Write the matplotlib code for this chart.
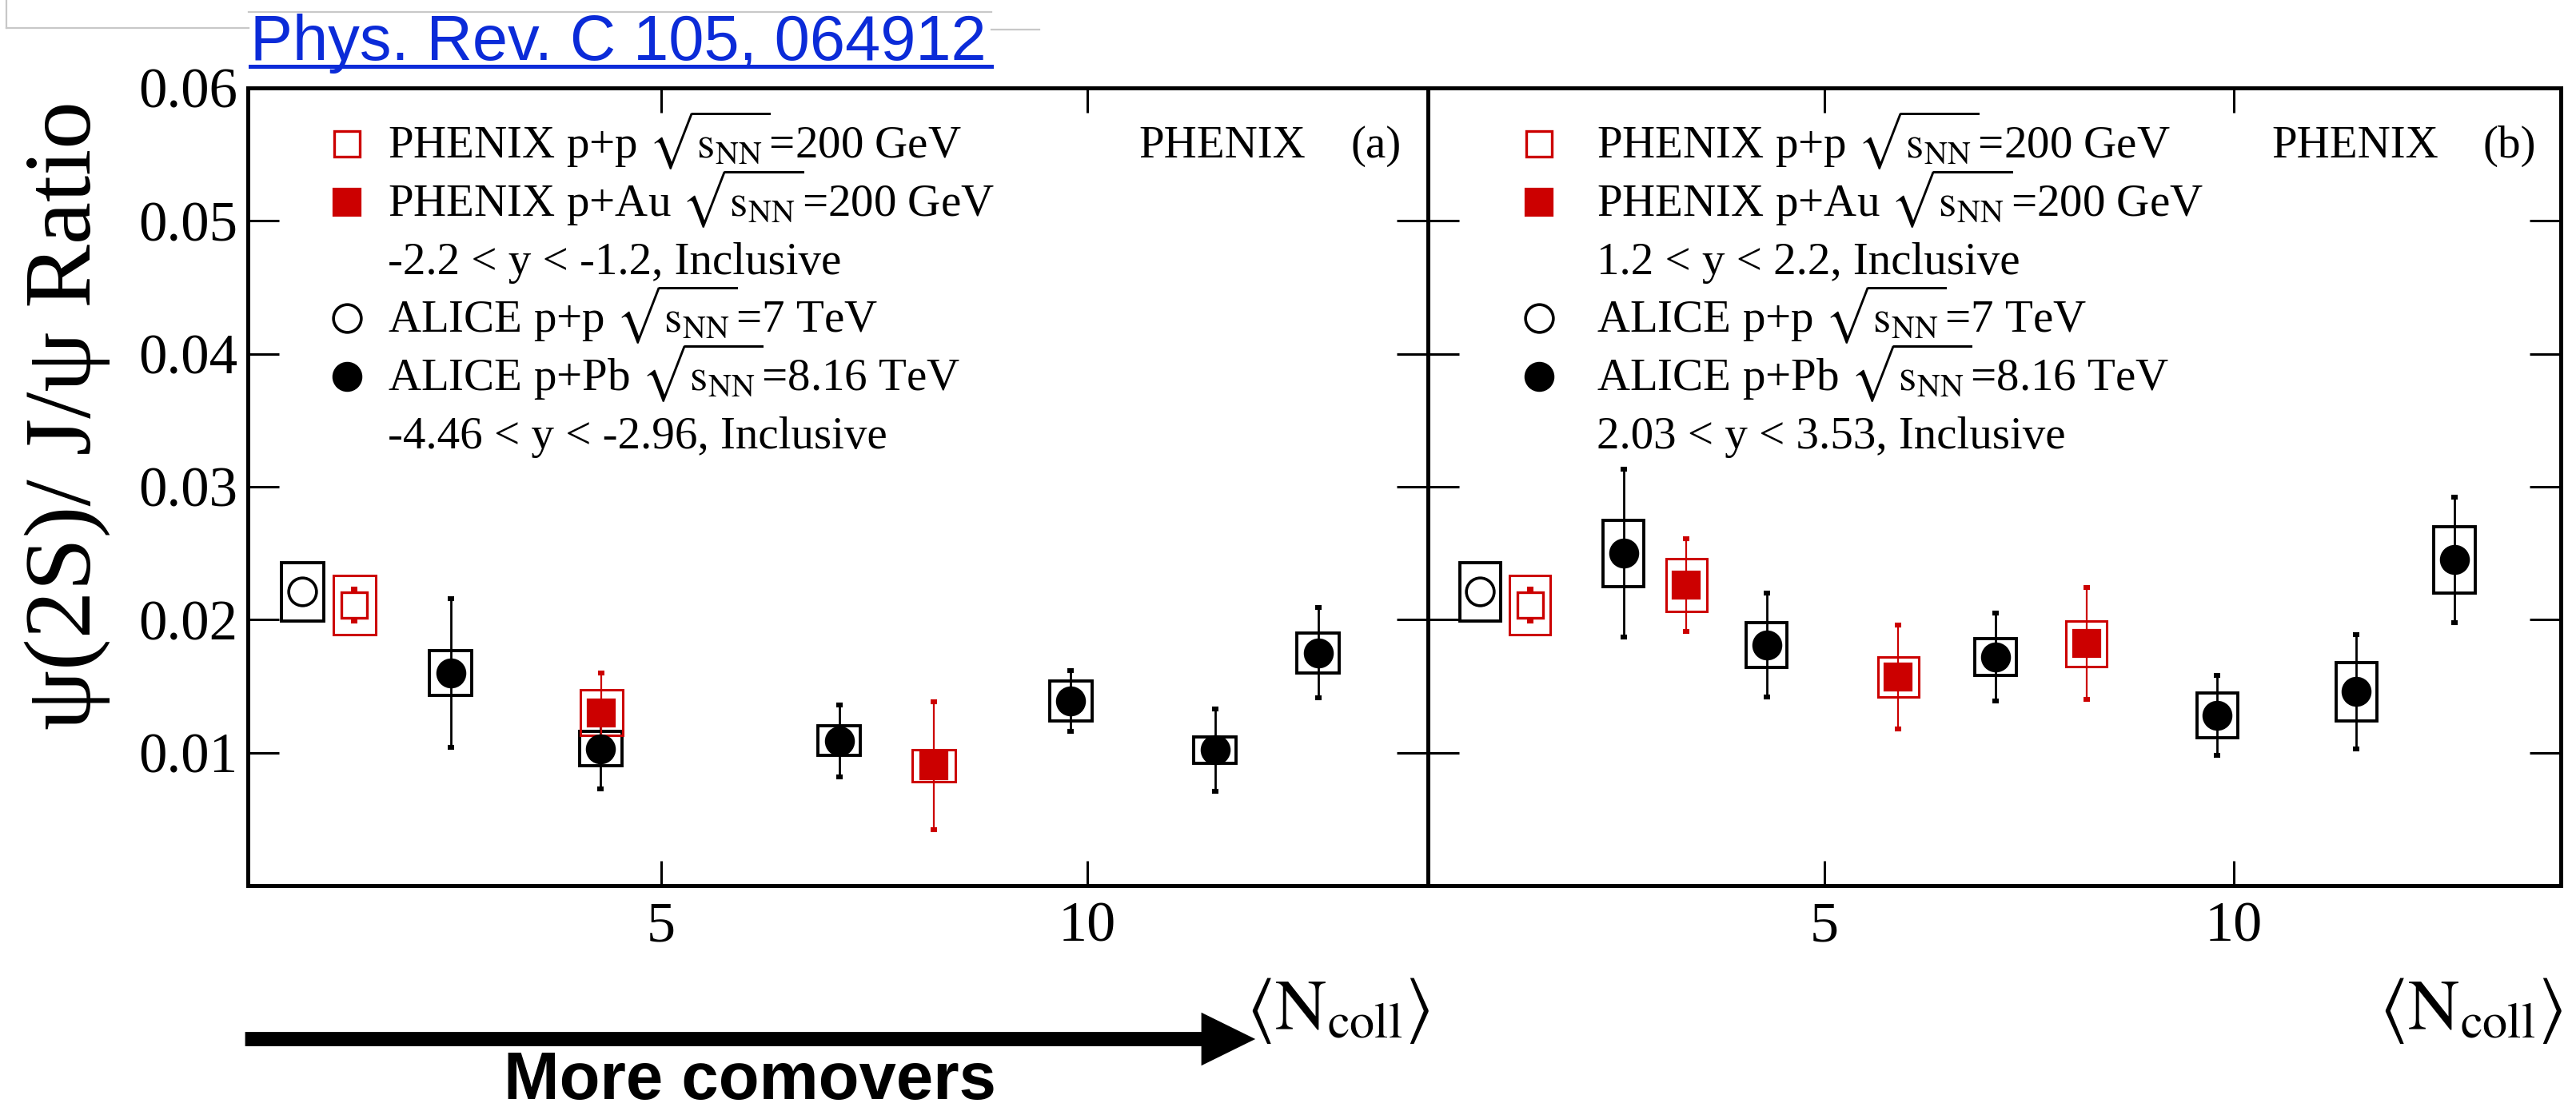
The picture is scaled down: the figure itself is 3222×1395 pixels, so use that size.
"""
psi(2S)/J/psi ratio vs <Ncoll>, PHENIX p+Au vs ALICE p+Pb, two rapidity panels.
Output: out.png
"""

import matplotlib.pyplot as plt
from matplotlib.patches import Rectangle, FancyArrow
from matplotlib.lines import Line2D

W, H, DPI = 3222, 1395, 200
plt.rcParams["font.family"] = ["Liberation Serif", "DejaVu Serif"]
plt.rcParams["mathtext.fontset"] = "stix"

RED = "#cc0000"
BLUE = "#0b2bd8"

# ---- data -------------------------------------------------------------------
# p+p references (same in both panels)
alice_pp_x = [0.79]
alice_pp_y = [0.0221]
alice_pp_stat = [0.0003]
alice_pp_sys = [0.0022]

phenix_pp_x = [1.40]
phenix_pp_y = [0.0211]
phenix_pp_stat = [0.0012]
phenix_pp_sys = [0.0022]

# panel (a): backward rapidity
a_alice_x = [2.53, 4.29, 7.09, 9.81, 11.5, 12.71]
a_alice_y = [0.0160, 0.0103, 0.0109, 0.0139, 0.0102, 0.0175]
a_alice_stat = [0.0056, 0.0030, 0.0027, 0.0023, 0.0031, 0.0034]
a_alice_sys = [0.0017, 0.0013, 0.0011, 0.0015, 0.0010, 0.0015]

a_phenix_x = [4.30, 8.20]
a_phenix_y = [0.0130, 0.0090]
a_phenix_stat = [0.0030, 0.0048]
a_phenix_sys = [0.0017, 0.0012]

# panel (b): forward rapidity
b_alice_x = [2.54, 4.29, 7.09, 9.80, 11.5, 12.70]
b_alice_y = [0.0250, 0.0181, 0.0172, 0.0128, 0.0146, 0.0245]
b_alice_stat = [0.0063, 0.0039, 0.0033, 0.0030, 0.0043, 0.0047]
b_alice_sys = [0.0025, 0.0017, 0.0014, 0.0017, 0.0022, 0.0025]

b_phenix_x = [3.31, 5.90, 8.20]
b_phenix_y = [0.0226, 0.0157, 0.0182]
b_phenix_stat = [0.0035, 0.0039, 0.0042]
b_phenix_sys = [0.0020, 0.0015, 0.0017]

xticks = [5, 10]
xtick_labels = ["5", "10"]
yticks = [0.01, 0.02, 0.03, 0.04, 0.05, 0.06]
ytick_labels = ["0.01", "0.02", "0.03", "0.04", "0.05", "0.06"]

SQ = r"$\sqrt{\mathrm{s}_{\mathrm{NN}}}$"
legend_a = [
    ("open_sq", "PHENIX p+p " + SQ + "=200 GeV"),
    ("fill_sq", "PHENIX p+Au " + SQ + "=200 GeV"),
    (None, "-2.2 < y < -1.2, Inclusive"),
    ("open_circ", "ALICE p+p " + SQ + "=7 TeV"),
    ("fill_circ", "ALICE p+Pb " + SQ + "=8.16 TeV"),
    (None, "-4.46 < y < -2.96, Inclusive"),
]
legend_b = [
    ("open_sq", "PHENIX p+p " + SQ + "=200 GeV"),
    ("fill_sq", "PHENIX p+Au " + SQ + "=200 GeV"),
    (None, "1.2 < y < 2.2, Inclusive"),
    ("open_circ", "ALICE p+p " + SQ + "=7 TeV"),
    ("fill_circ", "ALICE p+Pb " + SQ + "=8.16 TeV"),
    (None, "2.03 < y < 3.53, Inclusive"),
]

# ---- styles -----------------------------------------------------------------
BOX_HW = 0.25          # half width of systematic boxes, in <Ncoll> units
MS_CIRC = 12.5
MS_SQ = 12.5
STYLE = {
    "open_circ": dict(marker="o", mfc="white", mec="black", mew=1.3, ms=MS_CIRC),
    "fill_circ": dict(marker="o", mfc="black", mec="black", mew=1.0, ms=MS_CIRC),
    "open_sq": dict(marker="s", mfc="white", mec=RED, mew=1.2, ms=MS_SQ - 1),
    "fill_sq": dict(marker="s", mfc=RED, mec=RED, mew=0.8, ms=MS_SQ),
}


def fx(x):
    return x / W


def fy(y):
    return 1 - y / H


fig = plt.figure(figsize=(W / DPI, H / DPI), dpi=DPI)
fig.patch.set_facecolor("white")

axa = fig.add_axes([fx(310), fy(1108), (1786 - 310) / W, (1108 - 110) / H])
axb = fig.add_axes([fx(1786), fy(1108), (3203 - 1786) / W, (1108 - 110) / H])


def series(ax, xs, ys, stat, sys, key, color, box_lw, bar_lw):
    for x, y, s in zip(xs, ys, sys):
        ax.add_patch(Rectangle((x - BOX_HW, y - s), 2 * BOX_HW, 2 * s, fill=False,
                               edgecolor=color, linewidth=box_lw, zorder=2))
    ax.errorbar(xs, ys, yerr=stat, fmt="none", ecolor=color, elinewidth=bar_lw,
                capsize=1.3, capthick=2.2, zorder=3)
    ax.plot(xs, ys, linestyle="none", zorder=4, **STYLE[key])


def panel(ax, alice_x, alice_y, alice_stat, alice_sys, phx_x, phx_y, phx_stat, phx_sys, legend):
    ax.set_xlim(0.15, 14.0)
    ax.set_ylim(0, 0.06)

    series(ax, alice_pp_x, alice_pp_y, alice_pp_stat, alice_pp_sys, "open_circ", "black", 1.4, 1.0)
    series(ax, phenix_pp_x, phenix_pp_y, phenix_pp_stat, phenix_pp_sys, "open_sq", RED, 1.1, 0.8)
    series(ax, alice_x, alice_y, alice_stat, alice_sys, "fill_circ", "black", 1.4, 1.0)
    series(ax, phx_x, phx_y, phx_stat, phx_sys, "fill_sq", RED, 1.1, 0.8)

    ax.set_xticks(xticks)
    ax.set_xticklabels(xtick_labels)
    ax.set_yticks(yticks)
    ax.set_yticklabels(ytick_labels)
    ax.tick_params(axis="both", direction="in", top=True, right=True, width=1.1,
                   labelsize=25.5, colors="black")
    ax.tick_params(axis="x", length=11, pad=7, labelsize=26)
    ax.tick_params(axis="y", length=14, pad=4.5)
    for sp in ax.spines.values():
        sp.set_linewidth(1.8)

    # hand-placed legend (rows in pixels of the output image)
    bbox = ax.get_position()
    left_px = bbox.x0 * W
    marker_dx, text_dx = (124, 175) if ax is axa else (139, 211)
    baselines = [197, 270, 343, 415, 488, 561]
    for (key, label), base in zip(legend, baselines):
        if key is not None:
            fig.add_artist(Line2D([fx(left_px + marker_dx)], [fy(base - 17)],
                                  linestyle="none", transform=fig.transFigure, **STYLE[key]))
        fig.text(fx(left_px + text_dx), fy(base), label, fontsize=20.5, va="baseline", ha="left")

    right_px = (bbox.x0 + bbox.width) * W
    fig.text(fx(right_px - 362), fy(197), "PHENIX", fontsize=20.5, va="baseline")
    fig.text(fx(right_px - 97), fy(197), "(a)" if ax is axa else "(b)", fontsize=20.5, va="baseline")
    fig.text(fx(right_px + 2), fy(1265), r"$\langle\mathrm{N}_{\mathrm{coll}}\rangle$",
             fontsize=32, ha="right", va="center")


panel(axa, a_alice_x, a_alice_y, a_alice_stat, a_alice_sys,
      a_phenix_x, a_phenix_y, a_phenix_stat, a_phenix_sys, legend_a)
panel(axb, b_alice_x, b_alice_y, b_alice_stat, b_alice_sys,
      b_phenix_x, b_phenix_y, b_phenix_stat, b_phenix_sys, legend_b)
axb.tick_params(axis="y", labelleft=False)

# y label
fig.text(fx(84), fy(520), "ψ(2S)/ J/ψ Ratio", rotation=90, fontsize=43,
         ha="center", va="center")

# reference link at the top
fig.text(fx(313), fy(75), "Phys. Rev. C 105, 064912", fontsize=28.6, color=BLUE,
         family=["Liberation Sans", "DejaVu Sans"], va="baseline", ha="left")
fig.add_artist(Line2D([fx(313), fx(1240)], [fy(83), fy(83)], color=BLUE, lw=1.8,
                      transform=fig.transFigure))

# faint page border bits from the screenshot
GRAY = "#c8c8c8"
for xs, ys in [([8, 311], [35, 35]), ([8, 8], [0, 35]), ([311, 1240], [15, 15]),
               ([1240, 1300], [37, 37])]:
    fig.add_artist(Line2D([fx(v) for v in xs], [fy(v) for v in ys], color=GRAY, lw=0.8,
                          transform=fig.transFigure))

# "More comovers" arrow
fig.add_artist(FancyArrow(fx(308), fy(1300), fx(1567) - fx(308), 0,
                          width=15 / H, head_width=62 / H, head_length=63 / W,
                          length_includes_head=True, color="black",
                          transform=fig.transFigure))
fig.text(fx(938), fy(1353), "More comovers", fontsize=30, weight="bold",
         family=["Liberation Sans", "DejaVu Sans"], ha="center", va="center")

fig.savefig("out.png", dpi=DPI, facecolor="white")
